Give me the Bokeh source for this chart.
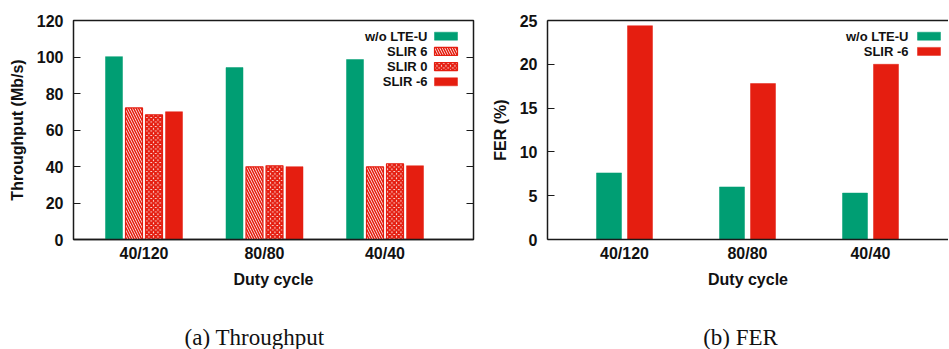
from bokeh.plotting import figure
from bokeh.models import LinearAxis, FixedTicker, Label, CustomJSTickFormatter, Range1d
from bokeh.layouts import row, column
from bokeh.embed import file_html
from bokeh.resources import INLINE

# ---------------- data ----------------
duty_cycles = ["40/120", "80/80", "40/40"]
thr_series = ["w/o LTE-U", "SLIR 6", "SLIR 0", "SLIR -6"]
thr_wo = [100.2, 94.2, 98.6]
thr_slir6 = [72.1, 39.8, 39.8]
thr_slir0 = [68.3, 40.4, 41.5]
thr_slirm6 = [70.0, 39.9, 40.4]
fer_series = ["w/o LTE-U", "SLIR -6"]
fer_wo = [7.6, 6.0, 5.3]
fer_slirm6 = [24.4, 17.8, 20.0]
thr_ticks = [0, 20, 40, 60, 80, 100, 120]
fer_ticks = [0, 5, 10, 15, 20, 25]
captions = ["(a) Throughput", "(b) FER"]

# ---------------- styles ----------------
GREEN = "#009E73"
RED = "#E51E10"
AXC = "#1a1a1a"
SANS = "Liberation Sans"
SERIF = "Liberation Serif"

styles = {
    "w/o LTE-U": dict(fill_color=GREEN, line_color=GREEN, line_width=0.5),
    "SLIR 6": dict(fill_color="white", line_color=RED, line_width=1.2,
                   hatch_pattern="\\", hatch_color=RED, hatch_weight=1.6, hatch_scale=5),
    "SLIR 0": dict(fill_color="white", line_color=RED, line_width=1.2,
                   hatch_pattern="x", hatch_color=RED, hatch_weight=2.2, hatch_scale=4.5),
    "SLIR -6": dict(fill_color=RED, line_color=RED, line_width=0.5),
}

F_TOP, F_BOT, F_H = 20, 239, 219
PLOT_BOTTOM = 305     # bottom of the two chart canvases
PAGE_H = 349


def make_fig(frame_w, border_l, border_r, yend, xstart, xend):
    p = figure(frame_width=frame_w, frame_height=F_H,
               min_border_left=border_l, min_border_right=border_r,
               min_border_top=F_TOP, min_border_bottom=PLOT_BOTTOM - F_BOT,
               x_range=(xstart, xend), y_range=(0, yend),
               output_backend="svg", toolbar_location=None,
               background_fill_color="white", border_fill_color="white")
    p.xgrid.visible = False
    p.ygrid.visible = False
    return p


def style_y(ax, ticks, label):
    ax.ticker = FixedTicker(ticks=ticks)
    ax.major_tick_in = 7
    ax.major_tick_out = 0
    ax.minor_tick_line_color = None
    ax.major_tick_line_color = AXC
    ax.major_tick_line_width = 1.2
    ax.major_label_text_font = SANS
    ax.major_label_text_font_style = "bold"
    ax.major_label_text_font_size = "16px"
    ax.major_label_text_color = "#111111"
    ax.major_label_standoff = 10
    ax.axis_label = label
    ax.axis_label_text_font = SANS
    ax.axis_label_text_font_style = "bold"
    ax.axis_label_text_font_size = "16px"
    ax.axis_label_text_color = "#111111"
    ax.axis_label_standoff = 8


def style_x(ax):
    ax.ticker = FixedTicker(ticks=[0, 1, 2])
    ax.major_label_overrides = {i: d for i, d in enumerate(duty_cycles)}
    ax.major_tick_in = 0
    ax.major_tick_out = 0
    ax.minor_tick_line_color = None
    ax.major_label_text_font = SANS
    ax.major_label_text_font_style = "bold"
    ax.major_label_text_font_size = "16px"
    ax.major_label_text_color = "#111111"
    ax.major_label_standoff = 5
    ax.axis_label = "Duty cycle"
    ax.axis_label_text_font = SANS
    ax.axis_label_text_font_style = "bold"
    ax.axis_label_text_font_size = "16px"
    ax.axis_label_text_color = "#111111"
    ax.axis_label_standoff = 6


def add_legend(p, names, to_x, to_y, text_right_px, sw_l_px, sw_r_px, rows_px, sw_h_px):
    for name, ry in zip(names, rows_px):
        p.add_layout(Label(x=to_x(text_right_px), y=to_y(ry), text=name,
                           text_align="right", text_baseline="middle",
                           text_font=SANS, text_font_style="bold",
                           text_font_size="13px", text_color="#111111"))
        p.quad(left=[to_x(sw_l_px)], right=[to_x(sw_r_px)],
               bottom=[to_y(ry + sw_h_px / 2)], top=[to_y(ry - sw_h_px / 2)],
               **styles[name])


blank = CustomJSTickFormatter(code="return '';")

# ---------------- (a) throughput ----------------
L_G0, L_U, F_L1, F_R1 = 143.5, 120.5, 73, 473
lx = lambda px: (px - L_G0) / L_U
ly1 = lambda py: (F_BOT - py) * 120 / F_H

p1 = make_fig(F_R1 - F_L1, F_L1, 5, 120, lx(F_L1), lx(F_R1))
p1.outline_line_color = AXC
p1.outline_line_width = 1.5

step1 = 20 / L_U
bw1 = 17 / L_U
thr_vals = [thr_wo, thr_slir6, thr_slir0, thr_slirm6]
for k, (name, vals) in enumerate(zip(thr_series, thr_vals)):
    off = (k - 1.5) * step1
    xs = [i + off for i in range(len(duty_cycles))]
    p1.vbar(x=xs, top=vals, bottom=0, width=bw1, **styles[name])

style_y(p1.yaxis[0], thr_ticks, "Throughput (Mb/s)")
p1.yaxis[0].axis_line_color = None
style_x(p1.xaxis[0])
p1.xaxis[0].axis_line_color = AXC
p1.xaxis[0].axis_line_width = 1.5

r_ax = LinearAxis(ticker=FixedTicker(ticks=thr_ticks), formatter=blank,
                  major_tick_in=7, major_tick_out=0, minor_tick_line_color=None,
                  axis_line_color=None, major_tick_line_color=AXC,
                  major_tick_line_width=1.2, major_label_standoff=0)
p1.add_layout(r_ax, "right")

add_legend(p1, thr_series, lx, ly1, 427, 434, 457, [35.7, 50.9, 66.1, 81.3], 8)

# ---------------- (b) FER ----------------
R_G0, R_U, F_L2, F_R2 = 624, 123, 547, 948
rx = lambda px: (px - R_G0) / R_U
ly2 = lambda py: (F_BOT - py) * 25 / F_H

p2 = make_fig(F_R2 - F_L2, F_L2 - (F_R1 + 5), 0, 25, rx(F_L2), rx(F_R2))
p2.outline_line_color = None

step2 = 31 / R_U
bw2 = 25 / R_U
fer_vals = [fer_wo, fer_slirm6]
for k, (name, vals) in enumerate(zip(fer_series, fer_vals)):
    off = (k - 0.5) * step2
    xs = [i + off for i in range(len(duty_cycles))]
    p2.vbar(x=xs, top=vals, bottom=0, width=bw2, **styles[name])

style_y(p2.yaxis[0], fer_ticks, "FER (%)")
p2.yaxis[0].axis_line_color = AXC
p2.yaxis[0].axis_line_width = 1.5
style_x(p2.xaxis[0])
p2.xaxis[0].axis_line_color = AXC
p2.xaxis[0].axis_line_width = 1.5

top_ax = LinearAxis(ticker=FixedTicker(ticks=[]), formatter=blank,
                    major_tick_in=0, major_tick_out=0, minor_tick_line_color=None,
                    axis_line_color=AXC, axis_line_width=1.5, major_label_standoff=0)
p2.add_layout(top_ax, "above")

add_legend(p2, fer_series, rx, ly2, 908, 917, 940, [35.7, 50.9], 8)

# ---------------- captions strip (page-pixel coordinates) ----------------
cap = figure(width=F_R2, height=PAGE_H - PLOT_BOTTOM,
             x_range=Range1d(0, F_R2), y_range=Range1d(PAGE_H, PLOT_BOTTOM),
             x_axis_type=None, y_axis_type=None, min_border=0,
             output_backend="svg", toolbar_location=None,
             background_fill_color="white", border_fill_color="white",
             outline_line_color=None)
cap.xgrid.visible = False
cap.ygrid.visible = False
for text, cx in zip(captions, [254, 740]):
    cap.add_layout(Label(x=cx, y=337, text=text, text_align="center",
                         text_baseline="alphabetic", text_font=SERIF,
                         text_font_size="23px", text_color="#111111"))

layout = column(row(p1, p2), cap)
open("out.html", "w").write(file_html(layout, INLINE))
